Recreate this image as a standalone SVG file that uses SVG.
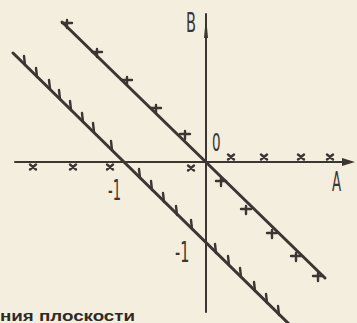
<svg xmlns="http://www.w3.org/2000/svg" width="357" height="323" viewBox="0 0 357 323">
<defs>
<style>
.ax{stroke:#3b3631;stroke-width:2;fill:none;stroke-linecap:round}
.ln{stroke:#3b3631;stroke-width:3;fill:none;stroke-linecap:round}
.mk{stroke:#3b3631;stroke-width:2.4;fill:none;stroke-linecap:round}
.lbl{font-family:"DejaVu Sans Condensed","Liberation Sans",sans-serif;fill:#3b3631}
</style>
<g id="xm"><path class="mk" d="M-3,-2.5 L3,2.5 M3,-2.5 L-3,2.5"/></g>
<g id="pm"><path class="mk" d="M-5,0 L5,0 M0,-3 L0,5"/></g>
<g id="hm"><path class="mk" d="M0,0 L-1,-9"/></g>
</defs>
<rect width="357" height="323" fill="#f4eedf"/>
<g id="connectors">
<path class="ax" d="M15,162 L346,162"/>
<path d="M342,158 L355,162 L342,166 Z" fill="#3b3631"/>
<path class="ax" d="M206,14 L206,312"/>
<path d="M204,38 L206,16 L208,38 Z" fill="#3b3631"/>
<path class="ln" d="M62,22 L325,278"/>
<path class="ln" d="M13,53 L290,325"/>
</g>
<g id="axis-marks">
<use href="#xm" x="33" y="167"/><use href="#xm" x="73" y="167"/><use href="#xm" x="110" y="167"/><use href="#xm" x="191" y="168"/>
<use href="#xm" x="231" y="157"/><use href="#xm" x="264" y="157"/><use href="#xm" x="301" y="157"/><use href="#xm" x="330" y="157"/>
</g>
<g id="line1-marks">
<use href="#pm" x="67" y="23"/><use href="#pm" x="97" y="52"/><use href="#pm" x="127" y="80"/><use href="#pm" x="156" y="108"/><use href="#pm" x="185" y="134"/>
<use href="#pm" x="221" y="181"/><use href="#pm" x="246" y="209"/><use href="#pm" x="272" y="233"/><use href="#pm" x="296" y="256"/><use href="#pm" x="318" y="276"/>
</g>
<g id="line2-marks">
<use href="#hm" x="25" y="65"/><use href="#hm" x="37" y="77"/><use href="#hm" x="50" y="89"/><use href="#hm" x="60" y="99"/><use href="#hm" x="71" y="110"/><use href="#hm" x="83" y="122"/><use href="#hm" x="94" y="132"/><use href="#hm" x="112" y="150"/>
<use href="#hm" x="140" y="178"/><use href="#hm" x="152" y="190"/><use href="#hm" x="164" y="202"/><use href="#hm" x="177" y="215"/><use href="#hm" x="192" y="229"/>
<use href="#hm" x="216" y="253"/><use href="#hm" x="229" y="265"/><use href="#hm" x="241" y="277"/><use href="#hm" x="255" y="291"/><use href="#hm" x="267" y="303"/><use href="#hm" x="279" y="315"/>
</g>
<g id="labels">
<text class="lbl" x="186" y="32" font-size="27" transform="translate(186,0) scale(0.6,1) translate(-186,0)">B</text>
<text class="lbl" x="212" y="151" font-size="25" transform="translate(212,0) scale(0.6,1) translate(-212,0)">0</text>
<text class="lbl" x="332" y="191" font-size="27" transform="translate(332,0) scale(0.55,1) translate(-332,0)">A</text>
<text class="lbl" x="108" y="200" font-size="29" transform="translate(108,0) scale(0.5,1) translate(-108,0)">-1</text>
<text class="lbl" x="175" y="262" font-size="29" transform="translate(175,0) scale(0.55,1) translate(-175,0)">-1</text>
<text x="0" y="321" font-family="'Liberation Sans',sans-serif" font-weight="bold" font-size="14" fill="#2e2a26" textLength="135" lengthAdjust="spacingAndGlyphs">ния плоскости</text>
</g>
</svg>
